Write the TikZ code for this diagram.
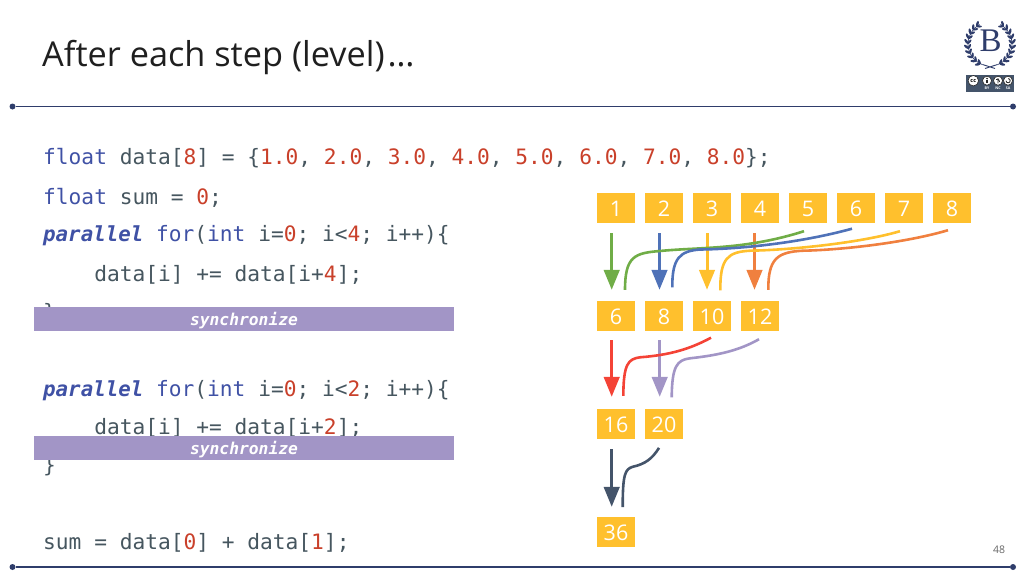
\documentclass[tikz,border=0pt]{standalone}
\usepackage{fontspec}
\setmainfont{Open Sans}
\setmonofont{DejaVu Sans Mono}
\usetikzlibrary{arrows.meta,calc}
\definecolor{navy}{HTML}{2F3D6B}
\definecolor{kw}{HTML}{3F51A5}
\definecolor{txt}{HTML}{46565F}
\definecolor{num}{HTML}{C9402A}
\definecolor{barc}{HTML}{A295C6}
\definecolor{boxc}{HTML}{FFC02D}
\definecolor{cgreen}{HTML}{70AD47}
\definecolor{cblue}{HTML}{4F72B8}
\definecolor{cyellow}{HTML}{FFC02D}
\definecolor{corange}{HTML}{F0803F}
\definecolor{cred}{HTML}{F44336}
\definecolor{cpurple}{HTML}{A295C6}
\definecolor{cdark}{HTML}{44546A}
\newcommand{\cK}[1]{\textcolor{kw}{#1}}
\newcommand{\cN}[1]{\textcolor{num}{#1}}
\newcommand{\cP}{{\fontsize{20.8}{24}\selectfont\textcolor{kw}{\bfseries\itshape parallel}}}
\tikzset{
 code/.style={anchor=base west,inner sep=0pt,text=txt,font=\fontsize{21.2}{24}\selectfont\ttfamily},
 bar/.style={fill=barc,draw=none,minimum width=419.4pt,minimum height=23.6pt,inner sep=0pt,text=white,text height=16.4pt,text depth=3.8pt,font=\fontsize{16.3}{18}\selectfont\ttfamily\bfseries\itshape},
 val/.style={fill=boxc,draw=none,minimum width=37.4pt,minimum height=30pt,inner sep=0pt,text=white,text height=17.6pt,text depth=0pt,font=\fontsize{21.5}{24}\selectfont},
 strarrow/.style={line width=3pt,-{Triangle[width=15.5pt,length=20pt]}},
 swoop/.style={line width=2.6pt},
 rule/.style={navy,line width=1.6pt},
 ruledot/.style={circle,fill=navy,inner sep=0pt,minimum size=6pt},
 leaf/.style={fill=navy},
 ccring/.style={circle,draw=black!85,line width=.6pt,fill=white,inner sep=0pt},
 cclabel/.style={inner sep=0pt,text=white,font=\fontsize{3.6}{4}\selectfont\bfseries},
}
\begin{document}
\begin{tikzpicture}[x=1pt,y=-1pt]
\useasboundingbox (0,0) rectangle (1024,576);
\node[anchor=base west,inner sep=0pt,text=black!88,font=\fontsize{34.3}{38}\selectfont] (title) at (42,66) {After each step (level)\kern3pt…};
% rules
\node[ruledot] (tl) at (12.5,106.5) {};
\node[ruledot] (tr) at (1013,106.5) {};
\draw[rule] (tl) -- (tr);
\node[ruledot] (bl) at (12.5,567) {};
\node[ruledot] (br) at (1013,567) {};
\draw[rule] (bl) -- (br);
% logo
\node[inner sep=0pt,text=navy,font=\fontsize{33}{36}\selectfont\fontspec{Liberation Serif}] (logoB) at (990.5,41) {B};
\begin{scope}[shift={(990,44)},x=1pt,y=1pt]
\foreach \sx in {1,-1}{
\begin{scope}[xscale=\sx]
\draw[navy,line width=.7pt] (-70:22) arc[start angle=-70,end angle=62,radius=22];
\foreach \a in {-64,-51,...,62}{
  \fill[leaf,rotate=\a,shift={(22,0)},rotate=-38] (0,2.7) ellipse [x radius=1.25,y radius=3];
  \fill[leaf,rotate=\a,shift={(22,0)},rotate=38] (0,2.4) ellipse [x radius=1.1,y radius=2.7];
}
\end{scope}
}
\draw[navy,line width=.9pt] (-7.5,-20.5) -- (5,-24.5) (7.5,-20.5) -- (-5,-24.5);
\end{scope}
\node[fill=cdark,minimum width=48pt,minimum height=17pt,inner sep=0pt] (cc) at (990,83.5) {};
\node[ccring,minimum size=10.5pt,font=\fontsize{5.5}{5}\selectfont\bfseries] (cc1) at (973.3,80.7) {cc};
\node[ccring,minimum size=9pt] (cc2) at (987,80.7) {};
\node[ccring,minimum size=9pt] (cc3) at (998,80.7) {};
\node[ccring,minimum size=9pt] (cc4) at (1008,80.7) {};
\fill[black!85] (987,78.6) circle[radius=.9];
\fill[black!85] (986,80) rectangle (988,83);
\draw[black!85,line width=.7pt] (998,78) -- (998,83.4) (996.2,79.5) .. controls (999.5,78) and (999.5,82) .. (999.6,82);
\draw[black!85,line width=.8pt] (1006,80.7) arc[start angle=180,end angle=-90,radius=2.1];
\node[cclabel] (ccby) at (987,88.6) {BY};
\node[cclabel] (ccnc) at (998,88.6) {NC};
\node[cclabel] (ccsa) at (1008,88.6) {SA};
% code
\node[code] (c1) at (43,164) {\cK{float} data[\cN{8}] = \{\cN{1.0}, \cN{2.0}, \cN{3.0}, \cN{4.0}, \cN{5.0}, \cN{6.0}, \cN{7.0}, \cN{8.0}\};};
\node[code] (c2) at (43,204) {\cK{float} sum = \cN{0};};
\node[code] (c3) at (43,241) {\cP{} \cK{for}(\cK{int} i=\cN{0}; i<\cN{4}; i++)\{};
\node[code] (c4) at (43,281) {\phantom{xxxx}data[i] += data[i+\cN{4}];};
\node[code] (c5) at (43,319) {\}};
\node[code] (c6) at (43,396) {\cP{} \cK{for}(\cK{int} i=\cN{0}; i<\cN{2}; i++)\{};
\node[code] (c7) at (43,434) {\phantom{xxxx}data[i] += data[i+\cN{2}];};
\node[code] (c8) at (43,472) {\}};
\node[code] (c9) at (43,549) {sum = data[\cN{0}] + data[\cN{1}];};
\node[bar] (s1) at (244,319) {synchronize};
\node[bar] (s2) at (244,448) {synchronize};
% values
\foreach \n/\x/\t in {a1/616/1,a2/664/2,a3/712/3,a4/760/4,a5/808/5,a6/856/6,a7/904/7,a8/952/8}{
  \node[val] (\n) at (\x,208) {\t};
}
\foreach \n/\x/\t in {b1/616/6,b2/664/8,b3/712/10,b4/760/12}{
  \node[val] (\n) at (\x,316) {\t};
}
\node[val] (d1) at (616,424) {16};
\node[val] (d2) at (664,424) {20};
\node[val] (e1) at (616,532) {36};
% straight arrows
\draw[strarrow,cgreen] ($(a1.south)+(-4.3,10)$) -- ($(b1.north)+(-4.3,-11)$);
\draw[strarrow,cblue] ($(a2.south)+(-4.5,10)$) -- ($(b2.north)+(-4.5,-11)$);
\draw[strarrow,cyellow] ($(a3.south)+(-5,10)$) -- ($(b3.north)+(-5,-11)$);
\draw[strarrow,corange] ($(a4.south)+(-5.5,10)$) -- ($(b4.north)+(-5.5,-11)$);
\draw[strarrow,cred] ($(b1.south)+(-4.3,9)$) -- ($(d1.north)+(-4.3,-12)$);
\draw[strarrow,cpurple] ($(b2.south)+(-4.3,9)$) -- ($(d2.north)+(-4.3,-12)$);
\draw[strarrow,cdark] ($(d1.south)+(-4.3,10)$) -- ($(e1.north)+(-4.3,-10)$);
% curved
\draw[swoop,cgreen] ($(a5.south)+(-4,8)$) .. controls (745,250) and (700,247) .. (660,251) .. controls (635,253) and (625,256) .. ($(b1.north)+(9,-11)$);
\draw[swoop,cblue] ($(a6.south)+(-4,5.5)$) .. controls (800,243) and (740,249) .. (700,249.5) .. controls (680,251) and (672,258) .. ($(b2.north)+(8.3,-13.5)$);
\draw[swoop,cyellow] ($(a7.south)+(-4,8)$) .. controls (860,243) and (790,250) .. (750,250.7) .. controls (728,252) and (720,258) .. ($(b3.north)+(8.3,-10.5)$);
\draw[swoop,corange] ($(a8.south)+(-4,7)$) .. controls (905,243) and (840,250) .. (803,250.7) .. controls (778,252) and (768,258) .. ($(b4.north)+(8.3,-11)$);
\draw[swoop,cred] ($(b3.south)+(-1,6.5)$) .. controls (690,349) and (670,355) .. (640,357.3) .. controls (628,359) and (623.5,364) .. ($(d1.north)+(7.3,-13)$);
\draw[swoop,cpurple] ($(b4.south)+(-1,8)$) .. controls (740,350) and (720,355) .. (690,358.3) .. controls (677,360) and (672,366) .. ($(d2.north)+(7.7,-11.5)$);
\draw[swoop,cdark] ($(d2.south)+(-5,8.7)$) .. controls (652,459) and (645,464) .. (633,466.7) .. controls (625,469) and (622.7,474) .. ($(e1.north)+(6.7,-9.7)$);
\node[inner sep=0pt,text=black!60,font=\fontsize{10.5}{12}\selectfont] (pg) at (999,550) {48};
\end{tikzpicture}
\end{document}
